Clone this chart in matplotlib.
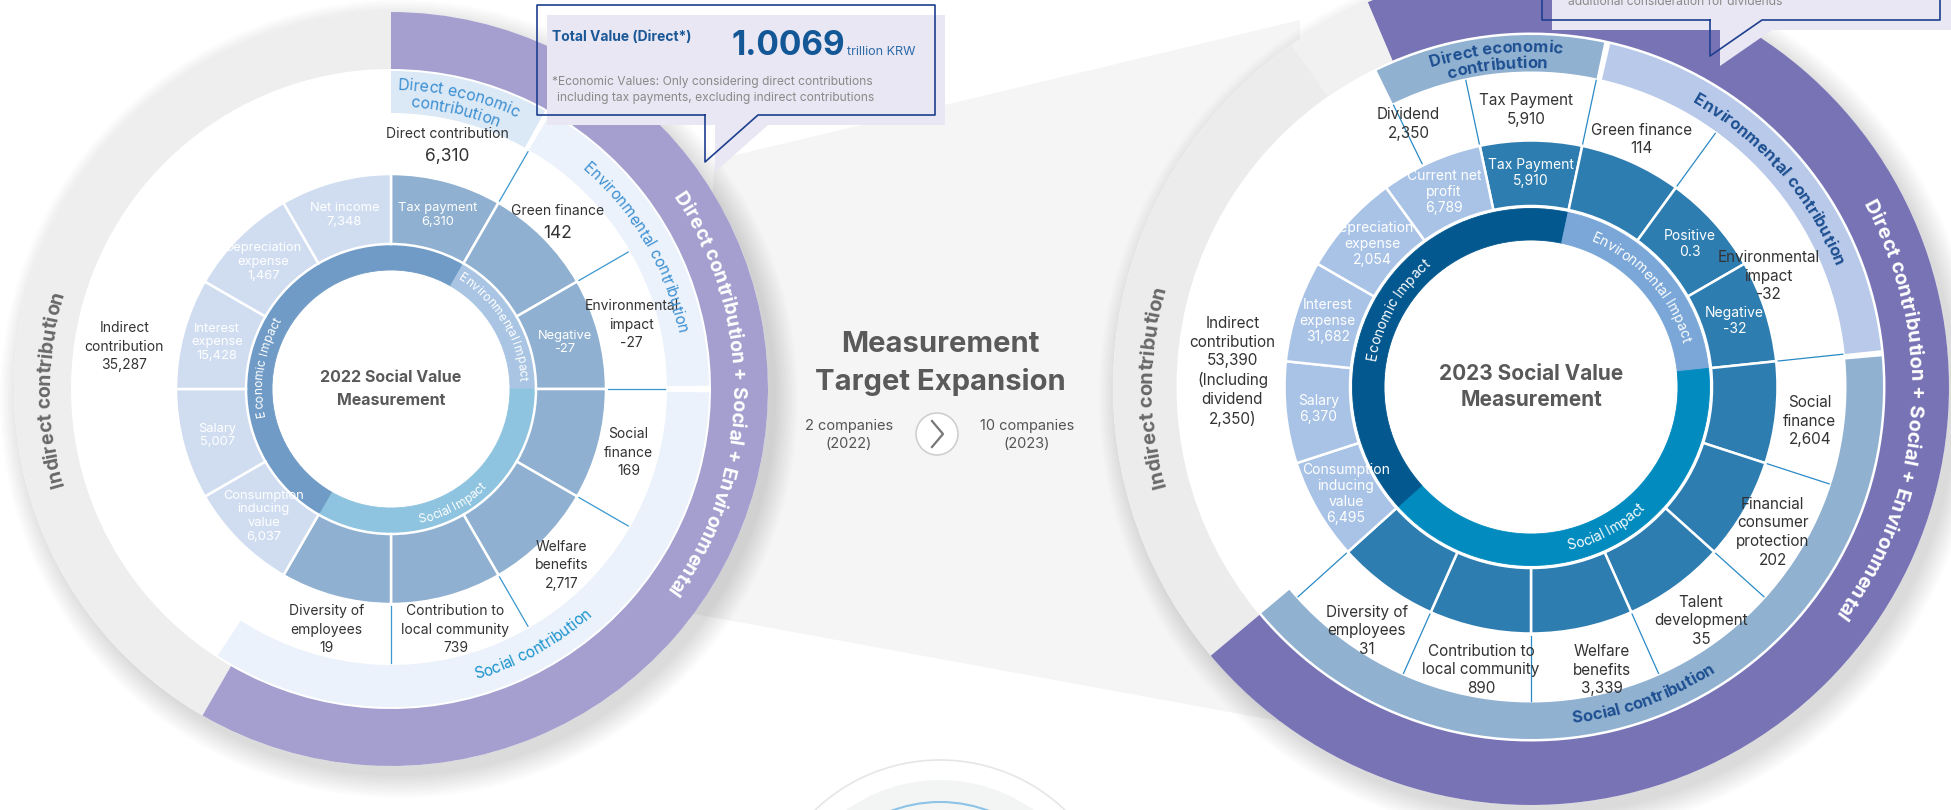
import numpy as np
import matplotlib.pyplot as plt
from matplotlib.patches import Wedge, Circle, Polygon
from matplotlib.font_manager import FontProperties
from matplotlib.textpath import TextToPath

plt.rcParams['font.family'] = ['Inter', 'DejaVu Sans']

W, H = 1951, 810

# ---------------- data: 2022 (segments clockwise from the top) ----------------
mid22_labels = ["Tax payment", "", "Negative", "", "", "", "",
                "Consumption\ninducing\nvalue", "Salary", "Interest\nexpense",
                "Depreciation\nexpense", "Net income"]
mid22_values = [6310, None, -27, None, None, None, None, 6037, 5007, 15428, 1467, 7348]
mid22_direct = [True] * 7 + [False] * 5
grp22 = ["econ", "env", "env", "soc", "soc", "soc", "soc", "econ", "econ", "econ", "econ", "econ"]
out22_labels = ["Direct contribution", "Green finance", "Environmental\nimpact", "Social\nfinance",
                "Welfare\nbenefits", "Contribution to\nlocal community", "Diversity of\nemployees",
                "Indirect\ncontribution"]
out22_values = [6310, 142, -27, 169, 2717, 739, 19, 35287]

# ---------------- data: 2023 ----------------
mid23_labels = ["Tax Payment", "", "Positive", "Negative", "", "", "", "", "", "",
                "Consumption\ninducing\nvalue", "Salary", "Interest\nexpense",
                "Depreciation\nexpense", "Current net\nprofit"]
mid23_values = [5910, None, 0.3, -32, None, None, None, None, None, None, 6495, 6370, 31682, 2054, 6789]
mid23_direct = [True] * 10 + [False] * 5
grp23 = ["econ", "env", "env", "env", "soc", "soc", "soc", "soc", "soc", "soc",
         "econ", "econ", "econ", "econ", "econ"]
out23_labels = ["Dividend", "Tax Payment", "Green finance", "Environmental\nimpact", "Social\nfinance",
                "Financial\nconsumer\nprotection", "Talent\ndevelopment", "Welfare\nbenefits",
                "Contribution to\nlocal community", "Diversity of\nemployees",
                "Indirect\ncontribution"]
out23_values = [2350, 5910, 114, -32, 2604, 202, 35, 3339, 890, 31, 53390]
indirect_dividend_23 = 2350

impact_names = ["Economic Impact", "Environmental Impact", "Social Impact"]


def fmt(v):
    if v is None:
        return ""
    return f"{v:,}" if isinstance(v, int) else str(v)


fig = plt.figure(figsize=(W / 100, H / 100), dpi=100)
ax = fig.add_axes([0, 0, 1, 1])
ax.set_xlim(0, W)
ax.set_ylim(0, H)
ax.axis('off')

t2p = TextToPath()


def tw(s, fp):
    w, h, d = t2p.get_text_width_height_descent(s, fp, ismath=False)
    return w * 100 / 72


def arc_text(c, r, ang, s, size, color, weight='normal', top=True, z=10):
    # lay the string out letter by letter along a circle
    fp = FontProperties(family='Inter', size=size, weight=weight)
    bar = tw('|', fp)
    pos = []
    for i in range(len(s)):
        right = tw(s[:i + 1] + '|', fp) - bar
        left = tw(s[:i] + '|', fp) - bar if i > 0 else 0.0
        pos.append((left + right) / 2)
    total = tw(s + '|', fp) - bar
    cap = 0.72 * size * 100 / 72
    rb = r - cap / 2 if top else r + cap / 2
    for ch, p in zip(s, pos):
        off = (p - total / 2) / rb
        a = np.radians(ang) - off if top else np.radians(ang) + off
        rot = np.degrees(a) - 90 if top else np.degrees(a) + 90
        ax.text(c[0] + rb * np.cos(a), c[1] + rb * np.sin(a), ch, fontproperties=fp, color=color,
                rotation=rot, rotation_mode='anchor', ha='center', va='baseline', zorder=z)


def polar(c, ang, r):
    return c[0] + r * np.cos(np.radians(ang)), c[1] + r * np.sin(np.radians(ang))


def img(x, y):
    return (x, H - y)


# ---------------- background ----------------
ax.add_patch(Polygon([img(715, 160), img(1300, 20), img(1300, 725), img(684, 612)],
                     closed=True, fc='#f5f5f5', ec='none', zorder=0))
# bottom-centre decoration
bc = img(940, 941)
ax.add_patch(Circle(bc, 181, fc='none', ec='#e6e6e6', lw=1.2, zorder=1))
ax.add_patch(Circle(bc, 161, fc='#f3f5f5', ec='none', zorder=1))
ax.add_patch(Circle(bc, 139, fc='none', ec='#8cc3e6', lw=1.5, zorder=1))


def shadow(c, r):
    for k in range(12):
        ax.add_patch(Circle((c[0] + 8, c[1] - 10), r + k * 2.0, fc='black', alpha=0.01, lw=0, zorder=1))
    ax.add_patch(Circle(c, r, fc='white', ec='none', zorder=2))


def draw_chart(c, geo, segs, cols, mid_labels, mid_values, mid_direct, grp):
    n = len(mid_labels)
    step = 360 / n
    r_in0, r_in1, r_m0, r_m1 = geo['inner'] + geo['mid']
    for i in range(n):
        t2 = geo['start'] - step * i
        t1 = t2 - step
        # inner impact ring
        col = cols[grp[i]]
        ax.add_patch(Wedge(c, r_in1, t1, t2, width=r_in1 - r_in0, fc=col, ec=col, lw=0.6, zorder=3))
        # middle ring
        mc = cols['dir'] if mid_direct[i] else cols['ind']
        ax.add_patch(Wedge(c, r_m1, t1, t2, width=r_m1 - r_m0, fc=mc, ec='white', lw=1.8, zorder=4))
        if mid_labels[i]:
            x, y = polar(c, (t1 + t2) / 2, (r_m0 + r_m1) / 2)
            ax.text(x, y, mid_labels[i] + "\n" + fmt(mid_values[i]), color='white', fontsize=geo['midfs'],
                    ha='center', va='center', linespacing=1.2, zorder=6)
    # bands
    b0, b1 = geo['band']
    for (t1, t2), bc_ in zip(segs['band'], cols['band']):
        ax.add_patch(Wedge(c, b1, t1, t2, width=b1 - b0, fc=bc_, ec='none', zorder=3))
    # outer ring
    o0, o1 = geo['outer']
    t1, t2 = segs['gray']
    ax.add_patch(Wedge(c, o1, t1, t2, width=o1 - o0, fc=cols['gray'], ec='none', zorder=3))
    t1, t2 = segs['purple']
    ax.add_patch(Wedge(c, o1, t1, t2, width=o1 - o0, fc=cols['purple'], ec='none', zorder=3))
    # separators in the label ring
    for a in segs['seps']:
        x0, y0 = polar(c, a, r_m1 + 2)
        x1, y1 = polar(c, a, b0 - 2)
        ax.plot([x0, x1], [y0, y1], color=cols['sep'], lw=0.9, zorder=5)


# ---------------- 2022 chart ----------------
L = img(391, 389)
shadow(L, 377)
draw_chart(L, dict(inner=(119, 145), mid=(145, 215), band=(276, 318), outer=(320, 377), start=90, midfs=9.3),
           dict(band=[(61, 90), (0.6, 60), (-123, -0.6)], gray=(90, 240), purple=(-120, 90),
                seps=[60, 30, 0, -30, -60, -90]),
           dict(econ='#6f9bc6', env='#a9c5e3', soc='#8ec4df', dir='#8fb0d0', ind='#d0ddf1',
                band=['#dbe8f6', '#ebf2fb', '#ebf2fb'], gray='#eeeeee', purple='#a49fce', sep='#3a97cf'),
           mid22_labels, mid22_values, mid22_direct, grp22)

out22_pos = [(77, 250), (45, 236), (15, 249), (-15, 246), (-46, 245), (-75, 249), (-105, 249), (171, 270)]
big22 = [True, True] + [False] * 6
for lab, v, (a, r), big in zip(out22_labels, out22_values, out22_pos, big22):
    x, y = polar(L, a, r)
    if big:
        ax.text(x, y + 11, lab, fontsize=10, color='#333333', ha='center', va='center', zorder=7)
        ax.text(x, y - 11, fmt(v), fontsize=12.5, color='#333333', ha='center', va='center', zorder=7)
    else:
        ax.text(x, y, lab + "\n" + fmt(v), fontsize=10, color='#333333', ha='center', va='center',
                linespacing=1.4, zorder=7)

ax.text(L[0], L[1], "2022 Social Value\nMeasurement", fontsize=11.5, fontweight='bold', color='#595959',
        ha='center', va='center', linespacing=1.6, zorder=7)
arc_text(L, 133, 170, impact_names[0], 8.7, 'white')
arc_text(L, 133, 31, impact_names[1], 8.7, 'white')
arc_text(L, 133, -62, impact_names[2], 8.7, 'white', top=False)
arc_text(L, 305, 77, "Direct economic", 11.5, '#3b8fd2')
arc_text(L, 288, 77, "contribution", 11.5, '#3b8fd2')
arc_text(L, 297, 30, "Environmental contribution", 11, '#3b8fd2')
arc_text(L, 297, -61, "Social contribution", 11, '#1a93cc', top=False)
arc_text(L, 348, 180, "Indirect contribution", 14, '#686868', weight='bold')
arc_text(L, 348, -1, "Direct contribution + Social + Environmental", 14, 'white', weight='bold')

# ---------------- 2023 chart ----------------
R = img(1531, 387)
shadow(R, 418)
draw_chart(R, dict(inner=(147, 178.5), mid=(181, 246.5), band=(315.5, 352), outer=(354.5, 418), start=102,
                   midfs=10),
           dict(band=[(78, 116), (6, 77), (-140, 5)], gray=(113, 220), purple=(-140, 113),
                seps=[116, 102, 78, 54, 6, -18, -42, -66, -90, -114, -138]),
           dict(econ='#03588f', env='#7aa7d8', soc='#018bbf', dir='#2e7db0', ind='#a9c3e6',
                band=['#91b1d1', '#b8c9e9', '#91b1d1'], gray='#ececec', purple='#7873b5', sep='#2a8ac6'),
           mid23_labels, mid23_values, mid23_direct, grp23)
ax.add_patch(Wedge(R, 418, 113, 125, width=63.5, fc='#f1f1f1', ec='none', zorder=3))

out23_pos = [(115, 290), (91, 277), (66, 271), (25, 262), (-7, 281), (-31, 282), (-54, 289),
             (-76, 292), (-100, 287), (-124, 294), (177, 299)]
for lab, v, (a, r) in zip(out23_labels, out23_values, out23_pos):
    x, y = polar(R, a, r)
    txt = lab + "\n" + fmt(v)
    if lab.startswith("Indirect"):
        txt += "\n(Including\ndividend\n" + fmt(indirect_dividend_23) + ")"
    ax.text(x, y, txt, fontsize=11, color='#333333', ha='center', va='center', linespacing=1.3, zorder=7)

ax.text(R[0], R[1], "2023 Social Value\nMeasurement", fontsize=15, fontweight='bold', color='#595959',
        ha='center', va='center', linespacing=1.35, zorder=7)
arc_text(R, 162.5, 150, impact_names[0], 10, 'white')
arc_text(R, 162.5, 42, impact_names[1], 10, 'white')
arc_text(R, 162.5, -62, impact_names[2], 10, 'white', top=False)
arc_text(R, 341, 96, "Direct economic", 12, '#1d4f91', weight='bold')
arc_text(R, 325, 96, "contribution", 12, '#1d4f91', weight='bold')
arc_text(R, 333, 41, "Environmental contribution", 12, '#1d4f91', weight='bold')
arc_text(R, 333, -70, "Social contribution", 12, '#1d4f91', weight='bold', top=False)
arc_text(R, 386, 180, "Indirect contribution", 14.5, '#686868', weight='bold')
arc_text(R, 386, -4, "Direct contribution + Social + Environmental", 14.5, 'white', weight='bold')

# ---------------- middle text ----------------
ax.text(940, H - 345, "Measurement", fontsize=21, fontweight='bold', color='#5a5a5a', ha='center', va='center')
ax.text(940, H - 382, "Target Expansion", fontsize=21, fontweight='bold', color='#5a5a5a', ha='center', va='center')
ax.text(849, H - 435, "2 companies\n(2022)", fontsize=10.5, color='#555555', ha='center', va='center',
        linespacing=1.3)
ax.text(1027, H - 435, "10 companies\n(2023)", fontsize=10.5, color='#555555', ha='center', va='center',
        linespacing=1.3)
ax.add_patch(Circle(img(937, 434), 21, fc='white', ec='#cfcfcf', lw=1.2, zorder=3))
ax.plot([932, 943, 932], [H - 421, H - 434, H - 447], color='#777777', lw=1.6, zorder=4)

# ---------------- callouts ----------------
lav = '#e8e7f3'
edge = '#1e3f8f'
ax.add_patch(Polygon([img(547, 15), img(945, 15), img(945, 125), img(768, 125), img(715, 172), img(715, 125),
                      img(547, 125)], closed=True, fc=lav, ec='none', zorder=8))
ol = [img(705, 115), img(537, 115), img(537, 5), img(935, 5), img(935, 115), img(758, 115), img(705, 162),
      img(705, 115)]
ax.plot([p[0] for p in ol], [p[1] for p in ol], color=edge, lw=1.2, zorder=9)
ax.text(552, H - 37, "Total Value (Direct*)", fontsize=10, fontweight='bold', color='#1c5796',
        ha='left', va='center', zorder=10)
ax.text(845, H - 55, "1.0069", fontsize=24, fontweight='bold', color='#145797', ha='right', va='baseline', zorder=10)
ax.text(847, H - 55, "trillion KRW", fontsize=9, color='#2c6aa8', ha='left', va='baseline', zorder=10)
ax.text(552, H - 82, "*Economic Values: Only considering direct contributions", fontsize=8.7, color='#8a8a8a',
        ha='left', va='center', zorder=10)
ax.text(557, H - 98, "including tax payments, excluding indirect contributions", fontsize=8.7, color='#8a8a8a',
        ha='left', va='center', zorder=10)

ax.add_patch(Polygon([img(1552, -60), img(1951, -60), img(1951, 30), img(1772, 30), img(1720, 66),
                      img(1720, 30), img(1552, 30)], closed=True, fc=lav, ec='none', zorder=8))
ol = [img(1710, 20), img(1542, 20), img(1542, -60), img(1940, -60), img(1940, 20), img(1762, 20), img(1710, 56),
      img(1710, 20)]
ax.plot([p[0] for p in ol], [p[1] for p in ol], color=edge, lw=1.2, zorder=9)
ax.text(1568, H - 2, "additional consideration for dividends", fontsize=8.7, color='#8a8a8a',
        ha='left', va='center', zorder=10)

fig.savefig("out.png", dpi=100)
